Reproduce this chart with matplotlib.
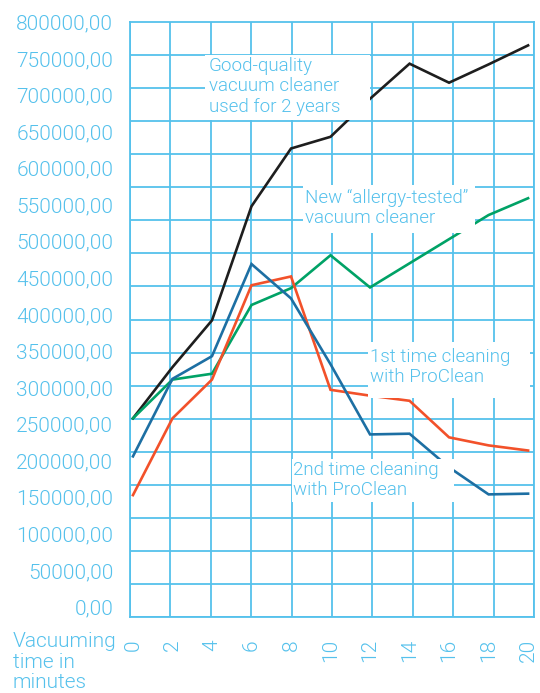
import numpy as np
import matplotlib
matplotlib.use("Agg")
import matplotlib.pyplot as plt
from matplotlib.patches import Rectangle

plt.rcParams["font.family"] = ["Roboto", "DejaVu Sans"]
plt.rcParams["font.weight"] = 300

# data
minutes = [0, 2, 4, 6, 8, 10, 12, 14, 16, 18, 20]
good_quality = [258000, 328000, 392000, 548000, 627000, 643000, 695000, 743000, 717000, 742000, 768000]
allergy_tested = [258000, 311000, 319000, 413000, 436000, 481000, 437000, 470000, 503000, 536000, 559000]
first_clean = [153000, 258000, 311000, 440000, 452000, 297000, 289000, 282000, 232000, 221000, 214000]
second_clean = [206000, 312000, 343000, 469000, 422000, 332000, 236000, 237000, 191000, 154000, 155000]

y_ticks = np.arange(0, 800001, 50000)
x_ticks = minutes

light = "#55c1ec"
lines = [
    (good_quality, "#1e1e1e"),
    (allergy_tested, "#00a266"),
    (first_clean, "#f2512a"),
    (second_clean, "#1d6fa3"),
]

fig = plt.figure(figsize=(5.4, 6.93), dpi=100)
ax = fig.add_axes([130 / 540, 76 / 693, 404 / 540, 595 / 693])

ylim = (-13675, 800000)
xlim = (-0.15, 20.3)
ax.set_ylim(*ylim)
ax.set_xlim(*xlim)

for vals, col in lines:
    ax.plot(minutes, vals, color=col, lw=1.9, zorder=3, solid_joinstyle="miter")

# grid is drawn on its own even spacing
ax.set_yticks(np.linspace(*ylim, 19), minor=True)
ax.set_xticks(np.linspace(*xlim, 11), minor=True)
ax.grid(which="minor", color=light, lw=1.3)
ax.grid(which="major", visible=False)
ax.set_axisbelow(True)

ax.set_yticks(y_ticks)
ax.set_yticklabels([f"{v:.2f}".replace(".", ",") for v in y_ticks])
ax.set_xticks(x_ticks)
ax.set_xticklabels([str(v) for v in x_ticks], rotation=90)
ax.tick_params(which="both", length=0)
ax.tick_params(axis="y", pad=12, labelsize=15, labelcolor=light)
ax.tick_params(axis="x", pad=16, labelsize=15, labelcolor=light)
for s in ax.spines.values():
    s.set_color(light)
    s.set_linewidth(1.3)

# white boxes behind the line labels
boxes = [
    (0.186, 0.835, 0.408, 0.110),
    (0.428, 0.645, 0.426, 0.081),
    (0.589, 0.368, 0.401, 0.094),
    (0.401, 0.193, 0.401, 0.073),
]
for bx, by, bw, bh in boxes:
    ax.add_patch(Rectangle((bx, by), bw, bh, transform=ax.transAxes,
                           facecolor="white", edgecolor="none", zorder=4))

notes = [
    (209, 57, "Good-quality\nvacuum cleaner\nused for 2 years"),
    (305, 189, "New \u201callergy-tested\u201d\nvacuum cleaner"),
    (370, 348, "1st time cleaning\nwith ProClean"),
    (293, 461, "2nd time cleaning\nwith ProClean"),
]
for px, py, txt in notes:
    fig.text(px / 540, 1 - py / 693, txt, color=light, fontsize=13.5,
             ha="left", va="top", linespacing=1.17, zorder=5)

fig.text(13 / 540, 1 - 632 / 693, "Vacuuming\ntime in\nminutes", color=light,
         fontsize=15, ha="left", va="top", linespacing=1.1)

fig.savefig("out.png", dpi=100)
